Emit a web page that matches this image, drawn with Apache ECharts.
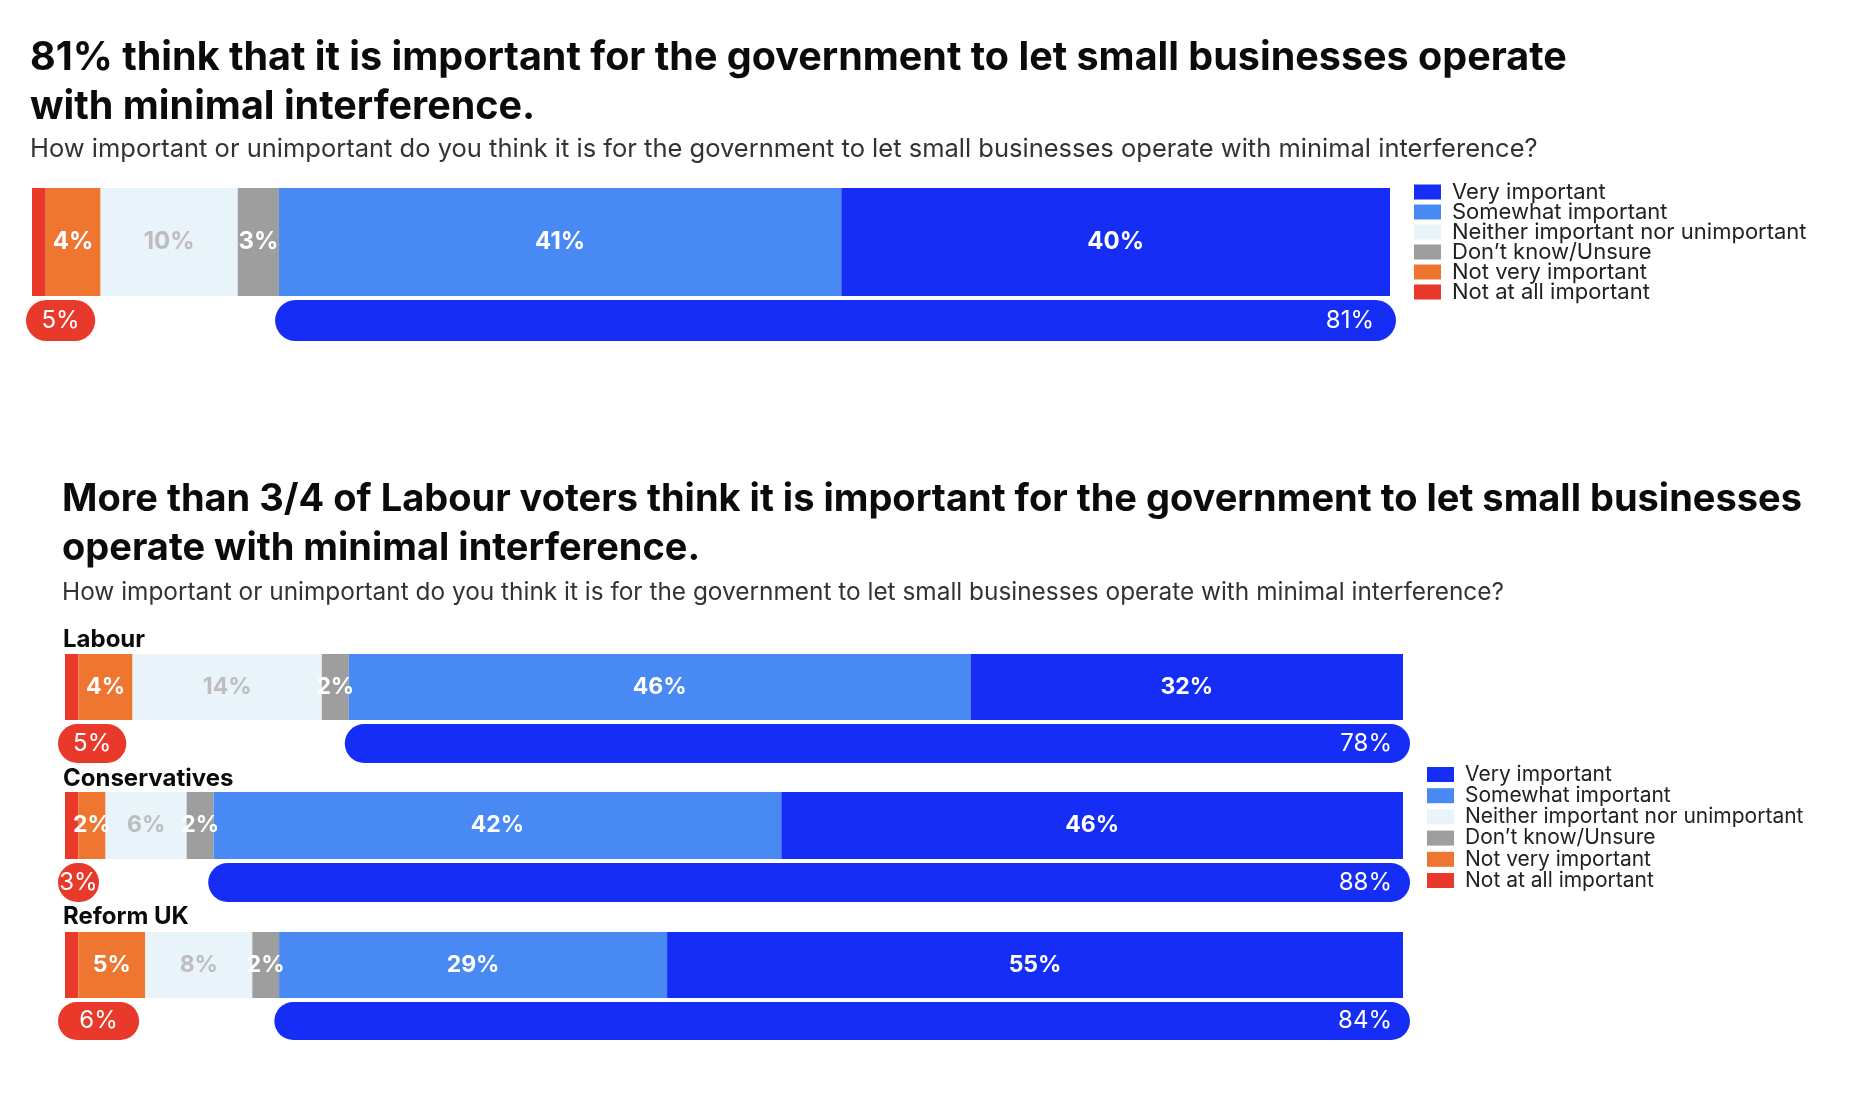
<!DOCTYPE html>
<html>
<head>
    <meta charset="UTF-8">
    <title>Small businesses – minimal interference</title>
    <script type="text/javascript" src="https://cdn.jsdelivr.net/npm/echarts@6/dist/echarts.min.js"></script>
</head>
<body style="margin: 0; padding: 0; background: #fff;">
    <div id="container" style="width: 1860px; height: 1112px;"></div>
    <script>
        // answer options, left to right in each bar
        var responses = ['Not at all important', 'Not very important', 'Neither important nor unimportant',
            'Don\u2019t know/Unsure', 'Somewhat important', 'Very important'];
        var responseColors = ['#E8392A', '#EE7631', '#E8F3FA', '#9E9E9E', '#4889F4', '#162DF5'];
        // order shown in the legends
        var legendOrder = ['Very important', 'Somewhat important', 'Neither important nor unimportant',
            'Don\u2019t know/Unsure', 'Not very important', 'Not at all important'];

        // all respondents
        var overallShares = [1, 4, 10, 3, 41, 40];
        var overallNet = [5, 81];   // [net unimportant, net important]

        // by party
        var parties = ['Labour', 'Conservatives', 'Reform UK'];
        var labourShares = [1, 4, 14, 2, 46, 32];
        var conservativeShares = [1, 2, 6, 2, 42, 46];
        var reformShares = [1, 5, 8, 2, 29, 55];
        var partyNetUnimportant = [5, 3, 6];
        var partyNetImportant = [78, 88, 84];

        var FONT = 'Inter';

        // layout of each row (bar + net pill underneath)
        var rows = [
            { shares: overallShares, neg: overallNet[0], pos: overallNet[1],
              left: 32, width: 1358, pad: 6, barTop: 188, barH: 108, pillTop: 300, pillH: 41, fs: 24 },
            { shares: labourShares, neg: partyNetUnimportant[0], pos: partyNetImportant[0],
              left: 65, width: 1338, pad: 7, barTop: 654, barH: 66, pillTop: 724, pillH: 39, fs: 23 },
            { shares: conservativeShares, neg: partyNetUnimportant[1], pos: partyNetImportant[1],
              left: 65, width: 1338, pad: 7, barTop: 792, barH: 67, pillTop: 863, pillH: 39, fs: 23 },
            { shares: reformShares, neg: partyNetUnimportant[2], pos: partyNetImportant[2],
              left: 65, width: 1338, pad: 7, barTop: 932, barH: 66, pillTop: 1002, pillH: 38, fs: 23 }
        ];

        var grid = [], xAxis = [], yAxis = [], series = [];

        rows.forEach(function (row, i) {
            var total = row.shares.reduce(function (a, b) { return a + b; }, 0);
            var barIdx = grid.length;
            grid.push({ left: row.left, top: row.barTop, width: row.width, height: row.barH });
            grid.push({ left: row.left - row.pad, top: row.pillTop, width: row.width + 2 * row.pad, height: row.pillH });
            [barIdx, barIdx + 1].forEach(function (g) {
                xAxis.push({ type: 'value', gridIndex: g, min: 0, max: total, show: false });
                yAxis.push({ type: 'category', gridIndex: g, data: ['row'], show: false });
            });

            // stacked response bar
            row.shares.forEach(function (v, k) {
                series.push({
                    type: 'bar', name: responses[k], stack: 'bar' + i,
                    xAxisIndex: barIdx, yAxisIndex: barIdx,
                    barWidth: '100%',
                    data: [v],
                    itemStyle: { color: responseColors[k] },
                    label: {
                        show: true, position: 'inside',
                        formatter: function (p) { return p.value >= 2 ? p.value + '%' : ''; },
                        color: k === 2 ? '#BDBDBD' : '#ffffff',
                        fontFamily: FONT, fontWeight: 'bold', fontSize: row.fs
                    }
                });
            });

            // net pills: unimportant | gap | important
            var firstFour = row.shares[0] + row.shares[1] + row.shares[2] + row.shares[3];
            var r = row.pillH / 2;
            series.push({
                type: 'bar', name: 'net unimportant ' + i, stack: 'pill' + i,
                xAxisIndex: barIdx + 1, yAxisIndex: barIdx + 1, barWidth: '100%',
                data: [row.neg],
                itemStyle: { color: '#E8392A', borderRadius: r },
                label: {
                    show: true, position: 'inside', formatter: '{c}%',
                    color: '#fff', fontFamily: FONT, fontSize: 24
                }
            });
            series.push({
                type: 'bar', name: 'gap ' + i, stack: 'pill' + i,
                xAxisIndex: barIdx + 1, yAxisIndex: barIdx + 1, barWidth: '100%',
                data: [firstFour - row.neg],
                itemStyle: { color: 'rgba(0,0,0,0)' },
                silent: true
            });
            series.push({
                type: 'bar', name: 'net important ' + i, stack: 'pill' + i,
                xAxisIndex: barIdx + 1, yAxisIndex: barIdx + 1, barWidth: '100%',
                data: [row.pos],
                itemStyle: { color: '#162DF5', borderRadius: r },
                label: {
                    show: true, position: 'insideRight', distance: i === 0 ? 22 : 18,
                    formatter: '{c}%', color: '#fff', fontFamily: FONT, fontSize: 24
                }
            });
        });

        function makeLegend(left, top, w, size, gap) {
            return {
                orient: 'vertical', left: left, top: top, padding: 0,
                itemWidth: w, itemHeight: 15, itemGap: gap,
                icon: 'rect', selectedMode: false,
                data: legendOrder,
                textStyle: { fontFamily: FONT, fontSize: size, color: '#222', padding: [0, 0, 0, 6] }
            };
        }

        function txt(x, y, s, size, weight, color) {
            return {
                type: 'text', left: x, top: y - size * 0.47,
                style: { text: s, fontFamily: FONT, fontSize: size, fontWeight: weight, fill: color }
            };
        }

        var question = 'How important or unimportant do you think it is for the government to let small businesses operate with minimal interference?';
        var graphics = [
            txt(30, 57, '81% think that it is important for the government to let small businesses operate', 39.5, 'bold', '#0b0b0b'),
            txt(30, 106, 'with minimal interference.', 39.5, 'bold', '#0b0b0b'),
            txt(30, 148, question, 25.5, 'normal', '#333'),
            txt(62, 498, 'More than 3/4 of Labour voters think it is important for the government to let small businesses', 38, 'bold', '#0b0b0b'),
            txt(62, 547, 'operate with minimal interference.', 38, 'bold', '#0b0b0b'),
            txt(62, 592, question, 24.4, 'normal', '#333')
        ];
        var partyY = [639, 778, 916];
        parties.forEach(function (p, i) {
            graphics.push(txt(63, partyY[i], p, 24, 'bold', '#0b0b0b'));
        });

        var chart = echarts.init(document.getElementById('container'), null, { renderer: 'canvas' });
        chart.setOption({
            animation: false,
            backgroundColor: '#fff',
            grid: grid,
            xAxis: xAxis,
            yAxis: yAxis,
            legend: [makeLegend(1414, 181, 27, 22, -2), makeLegend(1427, 764, 27, 21, 0.2)],
            graphic: graphics,
            series: series
        });
    </script>
</body>
</html>
